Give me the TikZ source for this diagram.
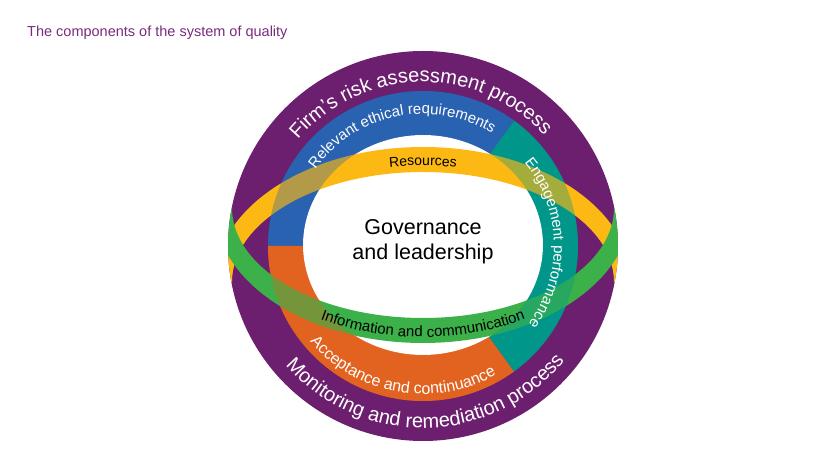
\documentclass[tikz,border=0pt]{standalone}
\usepackage{fontspec}
\setmainfont{Liberation Sans}
\usetikzlibrary{decorations.text}
\definecolor{titlepurple}{HTML}{7A2B7E}
\definecolor{ringpurple}{HTML}{6C1F6E}
\definecolor{ringblue}{HTML}{2862B0}
\definecolor{ringteal}{HTML}{00968A}
\definecolor{ringorange}{HTML}{E2631F}
\definecolor{bandyellow}{HTML}{FDB913}
\definecolor{bandgreen}{HTML}{3CB14A}
\tikzset{
  ringtext/.style={decorate, decoration={text along path, text align=center, text color=white, text={#1}}},
  bandtext/.style={decorate, decoration={text along path, text align=center, text color=black, text={#1}}},
  overlay ring/.style={fill=#1, fill opacity=0.35, even odd rule},
}
\begin{document}
\begin{tikzpicture}[x=1pt,y=1pt]
\useasboundingbox (-423,-224) rectangle (412,246);
\fill[white] (-423,-224) rectangle (412,246);
\node[anchor=base west, text=titlepurple, font=\fontsize{14.5}{17}\selectfont, inner sep=0] (title) at (-396,209) {The components of the system of quality};
% outer ring
\fill[ringpurple] (0,0) circle[radius=195pt];
% middle ring (opaque)
\fill[ringblue] (0,0) -- (54:155pt) arc[start angle=54, end angle=180, radius=155pt] -- cycle;
\fill[ringorange] (0,0) -- (180:155pt) arc[start angle=180, end angle=306, radius=155pt] -- cycle;
\fill[ringteal] (0,0) -- (-54:155pt) arc[start angle=-54, end angle=54, radius=155pt] -- cycle;
\fill[white] (0,1) ellipse[x radius=120pt, y radius=110pt];
% yellow band
\begin{scope}
  \clip (0,0) circle[radius=195pt];
  \clip (-260,-36) rectangle (260,260);
  \fill[bandyellow, even odd rule] (0,-36) ellipse[x radius=208pt, y radius=135pt] (0,-36) ellipse[x radius=191pt, y radius=110pt];
\end{scope}
% green band
\begin{scope}
  \clip (0,0) circle[radius=195pt];
  \clip (-260,38) rectangle (260,-260);
  \fill[bandgreen, even odd rule] (0,38) ellipse[x radius=208pt, y radius=135pt] (0,38) ellipse[x radius=191pt, y radius=110pt];
\end{scope}
% middle ring translucent overlay
\begin{scope}
  \clip (0,0) -- (54:200pt) arc[start angle=54, end angle=180, radius=200pt] -- cycle;
  \fill[overlay ring=ringblue] (0,0) circle[radius=155pt] (0,1) ellipse[x radius=120pt, y radius=110pt];
\end{scope}
\begin{scope}
  \clip (0,0) -- (180:200pt) arc[start angle=180, end angle=306, radius=200pt] -- cycle;
  \fill[overlay ring=ringorange] (0,0) circle[radius=155pt] (0,1) ellipse[x radius=120pt, y radius=110pt];
\end{scope}
\begin{scope}
  \clip (0,0) -- (-54:200pt) arc[start angle=-54, end angle=54, radius=200pt] -- cycle;
  \fill[overlay ring=ringteal] (0,0) circle[radius=155pt] (0,1) ellipse[x radius=120pt, y radius=110pt];
\end{scope}
% ring texts
\path[ringtext={|\fontsize{20}{24}\selectfont|Firm’s risk assessment process}] (160:164pt) arc[start angle=160, end angle=22, radius=164pt];
\path[ringtext={|\fontsize{20}{24}\selectfont|Monitoring and remediation process}] (200:182pt) arc[start angle=200, end angle=342, radius=182pt];
\path[ringtext={|\fontsize{15}{18}\selectfont|Relevant ethical requirements}] (170:132pt) arc[start angle=170, end angle=33, radius=132pt];
\path[ringtext={|\fontsize{16}{19}\selectfont|Acceptance and continuance}] (190:148pt) arc[start angle=190, end angle=330, radius=148pt];
\path[ringtext={|\fontsize{15}{18}\selectfont|Engagement performance}] (80:131pt) arc[start angle=80, end angle=-77, radius=131pt];
% band texts
\path[bandtext={|\fontsize{14}{17}\selectfont|Resources}] ([shift={(0,-36)}]105:190pt and 116.5pt) arc[start angle=105, end angle=75, x radius=190pt, y radius=116.5pt];
\path[bandtext={|\fontsize{15}{18}\selectfont|Information and communication}] ([shift={(0,38)}]205:202pt and 129pt) arc[start angle=205, end angle=335, x radius=202pt, y radius=129pt];
% centre
\node[anchor=base, font=\fontsize{21.5}{25}\selectfont, inner sep=0] (gov1) at (0,11) {Governance};
\node[anchor=base, font=\fontsize{21.5}{25}\selectfont, inner sep=0] (gov2) at (0,-14) {and leadership};
\end{tikzpicture}
\end{document}
